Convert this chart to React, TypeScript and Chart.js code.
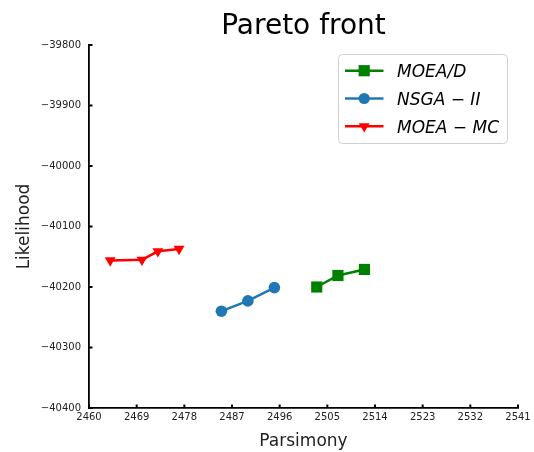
import React, { useEffect, useRef } from 'react';
import { Chart, registerables } from 'chart.js';

Chart.register(...registerables);

const seriesLabels = ['MOEA/D', 'NSGA − II', 'MOEA − MC'];
const seriesColors = ['#008000', '#1f77b4', '#ff0000'];
const seriesMarkers = ['rect', 'circle', 'triangle'];

const moeadX = [2503, 2507, 2512];
const moeadY = [-40200, -40181, -40171];
const nsgaX = [2485, 2490, 2495];
const nsgaY = [-40240, -40223, -40201];
const mcX = [2464, 2470, 2473, 2477];
const mcY = [-40156, -40155, -40141, -40137];

const xTicks = [2460, 2469, 2478, 2487, 2496, 2505, 2514, 2523, 2532, 2541];
const yTicks = [-40400, -40300, -40200, -40100, -40000, -39900, -39800];

const titleText = 'Pareto front';
const xTitle = 'Parsimony';
const yTitle = 'Likelihood';

const FONT = "'DejaVu Sans', sans-serif";

function pts(xs: number[], ys: number[]) {
  return xs.map((x, i) => ({ x, y: ys[i] }));
}

function fmt(v: number) {
  return (v < 0 ? '\u2212' : '') + String(Math.abs(v));
}

function drawMarker(ctx: CanvasRenderingContext2D, style: string, x: number, y: number) {
  ctx.beginPath();
  if (style === 'rect') {
    const s = 5.6;
    ctx.rect(x - s, y - s, 2 * s, 2 * s);
  } else if (style === 'circle') {
    ctx.arc(x, y, 5.6, 0, Math.PI * 2);
  } else {
    const r = 6.3;
    ctx.moveTo(x, y + r);
    ctx.lineTo(x - r * Math.sin(Math.PI / 3), y - r / 2);
    ctx.lineTo(x + r * Math.sin(Math.PI / 3), y - r / 2);
    ctx.closePath();
  }
  ctx.fill();
}

const decorPlugin = {
  id: 'decor',
  afterDraw(chart: any) {
    const ctx = chart.ctx as CanvasRenderingContext2D;
    const xs = chart.scales.x;
    const ys = chart.scales.y;
    const area = chart.chartArea;
    ctx.save();
    // inward tick marks
    ctx.strokeStyle = '#000';
    ctx.lineWidth = 2;
    xTicks.forEach((v) => {
      const px = xs.getPixelForValue(v);
      ctx.beginPath();
      ctx.moveTo(px, area.bottom);
      ctx.lineTo(px, area.bottom - 3.5);
      ctx.stroke();
    });
    yTicks.forEach((v) => {
      const py = ys.getPixelForValue(v);
      ctx.beginPath();
      ctx.moveTo(area.left, py);
      ctx.lineTo(area.left + 3.5, py);
      ctx.stroke();
    });

    // legend
    const bx = 338.5, by = 54.5, bw = 169, bh = 89, rad = 4;
    ctx.beginPath();
    ctx.moveTo(bx + rad, by);
    ctx.lineTo(bx + bw - rad, by);
    ctx.quadraticCurveTo(bx + bw, by, bx + bw, by + rad);
    ctx.lineTo(bx + bw, by + bh - rad);
    ctx.quadraticCurveTo(bx + bw, by + bh, bx + bw - rad, by + bh);
    ctx.lineTo(bx + rad, by + bh);
    ctx.quadraticCurveTo(bx, by + bh, bx, by + bh - rad);
    ctx.lineTo(bx, by + rad);
    ctx.quadraticCurveTo(bx, by, bx + rad, by);
    ctx.closePath();
    ctx.fillStyle = 'rgba(255,255,255,0.8)';
    ctx.fill();
    ctx.strokeStyle = '#d0d0d0';
    ctx.lineWidth = 1;
    ctx.stroke();

    chart.data.datasets.forEach((ds: any, i: number) => {
      const rowY = 70.7 + i * 27.8;
      ctx.strokeStyle = ds.borderColor;
      ctx.fillStyle = ds.borderColor;
      ctx.lineWidth = 2.5;
      ctx.beginPath();
      ctx.moveTo(345, rowY);
      ctx.lineTo(383.5, rowY);
      ctx.stroke();
      drawMarker(ctx, ds.pointStyle, 364.2, rowY);
      ctx.fillStyle = '#000';
      ctx.font = `italic 17px ${FONT}`;
      ctx.textBaseline = 'alphabetic';
      ctx.textAlign = 'left';
      ctx.fillText(ds.label, 397, rowY + 6.3);
    });
    ctx.restore();
  },
};

export default function App() {
  const ref = useRef<HTMLCanvasElement | null>(null);

  useEffect(() => {
    if (!ref.current) return;
    const allX = [moeadX, nsgaX, mcX];
    const allY = [moeadY, nsgaY, mcY];
    const datasets = seriesLabels.map((label, i) => ({
      label,
      data: pts(allX[i], allY[i]),
      showLine: true,
      borderColor: seriesColors[i],
      backgroundColor: seriesColors[i],
      pointBackgroundColor: seriesColors[i],
      pointBorderColor: seriesColors[i],
      borderWidth: 2.5,
      pointBorderWidth: 0,
      pointStyle: seriesMarkers[i],
      pointRotation: seriesMarkers[i] === 'triangle' ? 180 : 0,
      pointRadius: seriesMarkers[i] === 'rect' ? 7.9 : seriesMarkers[i] === 'circle' ? 5.8 : 6.3,
      tension: 0,
    }));

    const chart = new Chart(ref.current, {
      type: 'scatter',
      data: { datasets },
      plugins: [decorPlugin],
      options: {
        animation: false,
        responsive: false,
        layout: { padding: { left: 0, right: 16, top: 0, bottom: 0 } },
        plugins: {
          legend: { display: false },
          tooltip: { enabled: false },
          title: {
            display: true,
            text: titleText,
            fullSize: false,
            color: '#000',
            font: { family: FONT, size: 28, weight: 'normal', lineHeight: 1.2 },
            padding: { top: 9.5, bottom: 1.9 },
          },
        },
        scales: {
          x: {
            type: 'linear',
            min: 2460,
            max: 2541,
            grid: { display: false, drawTicks: false },
            border: { display: true, color: '#000', width: 1.8 },
            afterBuildTicks: (s: any) => {
              s.ticks = xTicks.map((v) => ({ value: v }));
            },
            afterFit: (s: any) => {
              s.height = 44;
              s.paddingLeft = 0;
              s.paddingRight = 0;
            },
            ticks: {
              autoSkip: false,
              maxRotation: 0,
              padding: 3,
              color: '#222',
              font: { family: FONT, size: 10 },
              callback: (v: any) => fmt(Number(v)),
            },
            title: {
              display: true,
              text: xTitle,
              color: '#222',
              font: { family: FONT, size: 17 },
              padding: { top: 0, bottom: 0 },
            },
          },
          y: {
            type: 'linear',
            min: -40400,
            max: -39800,
            grid: { display: false, drawTicks: false },
            border: { display: true, color: '#000', width: 1.8 },
            afterBuildTicks: (s: any) => {
              s.ticks = yTicks.map((v) => ({ value: v }));
            },
            afterFit: (s: any) => {
              s.width = 89;
              s.paddingTop = 0;
              s.paddingBottom = 0;
            },
            ticks: {
              autoSkip: false,
              padding: 8,
              color: '#222',
              font: { family: FONT, size: 10 },
              callback: (v: any) => fmt(Number(v)),
            },
            title: {
              display: true,
              text: yTitle,
              color: '#222',
              font: { family: FONT, size: 17 },
              padding: { top: 13.9, bottom: 0 },
            },
          },
        },
      },
    } as any);
    return () => chart.destroy();
  }, []);

  return (
    <div style={{ position: 'absolute', left: 0, top: 0, width: 534, height: 452, background: '#fff' }}>
      <canvas ref={ref} width={534} height={452} style={{ display: 'block' }} />
    </div>
  );
}
